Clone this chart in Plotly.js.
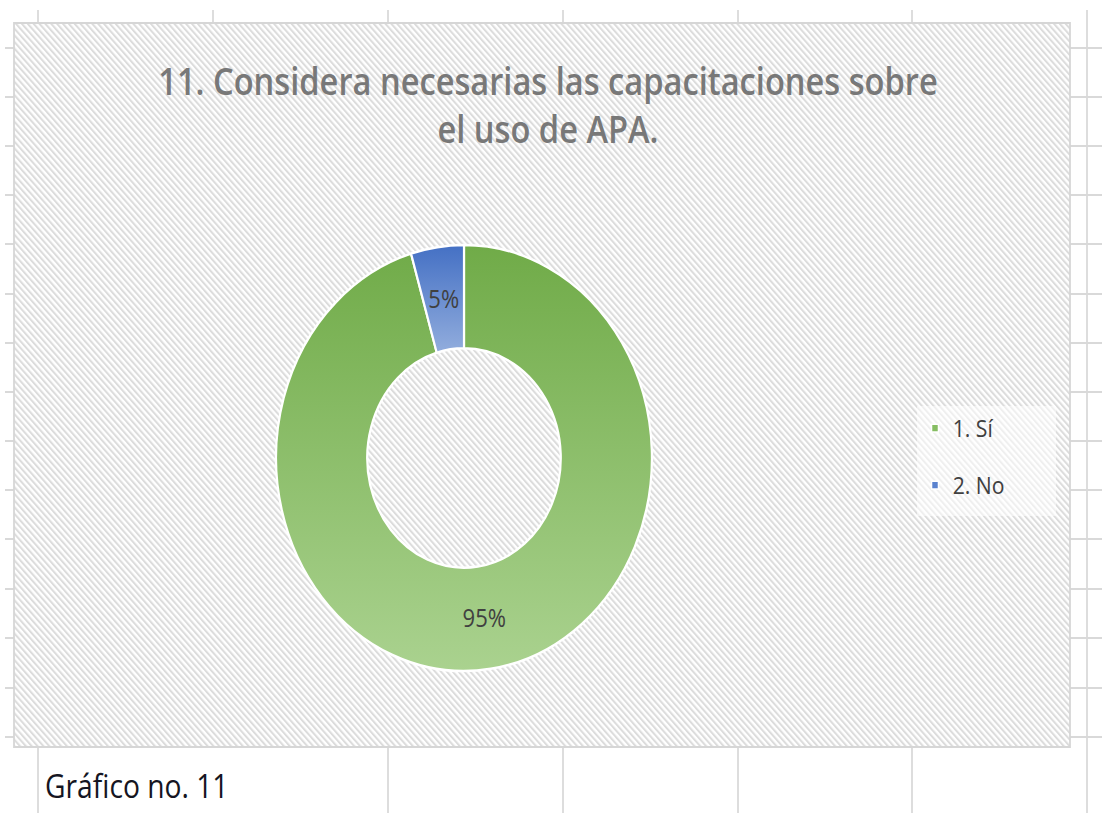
<!DOCTYPE html>
<html><head><meta charset="utf-8">
<script src="https://cdn.plot.ly/plotly-3.0.1.min.js"></script>
<style>
html,body{margin:0;padding:0;background:#fff;overflow:hidden;width:1102px;height:813px}
#wrap{width:1249px;height:813px;transform:scaleX(0.88231);transform-origin:0 0}
</style>
</head><body><div id="wrap"><div id="chart" style="width:1249px;height:813px"></div></div>
<script>
// ---- data ----
const categories = ['1. Sí', '2. No'];
const responses = [21, 1];
const chartTitle = '11. Considera necesarias las capacitaciones sobre<br>el uso de APA.';
const caption = 'Gráfico no. 11';

// ---- layout helpers (screen is squeezed horizontally like the reference screenshot) ----
const SW = 1102, H = 813, W = 1249, SX = SW / W;
const px = x => x / SW, py = y => 1 - y / H;
const gridCols = [38, 213, 388, 563, 738, 912, 1087];
const gridRows = [48, 97, 146, 195, 244, 294, 343, 392, 441, 490, 539, 589, 638, 688, 737];
const box = {x0: 14, y0: 23, x1: 1070, y1: 747};
const gridColor = '#d9d9d9';
const FONT = '"Open Sans", sans-serif';

const shapes = [];
function line(x0, y0, x1, y1) {
  shapes.push({type: 'line', xref: 'paper', yref: 'paper', x0: px(x0), y0: py(y0), x1: px(x1), y1: py(y1),
    line: {color: gridColor, width: 2}});
}
gridCols.forEach(x => { if (x < box.x1) line(x, 10, x, box.y0); });
[38, 388, 563, 738, 912].forEach(x => line(x, box.y1, x, H));
line(1087, 10, 1087, H);
gridRows.forEach(y => { line(5, y, box.x0, y); line(box.x1, y, SW, y); });
shapes.push({type: 'rect', xref: 'paper', yref: 'paper', x0: px(box.x0), y0: py(box.y0), x1: px(box.x1), y1: py(box.y1),
  line: {color: '#d6d6d6', width: 2}, fillcolor: 'rgba(0,0,0,0)'});

const bw = Math.round((box.x1 - box.x0) / SX), bh = box.y1 - box.y0;
const hatchSvg = "<svg xmlns='http://www.w3.org/2000/svg' width='" + bw + "' height='" + bh + "'>" +
  "<defs><pattern id='p' width='4.7' height='4.7' patternUnits='userSpaceOnUse' patternTransform='rotate(-45)'>" +
  "<rect width='2.2' height='4.7' fill='#dcdcdc'/></pattern></defs>" +
  "<rect width='100%' height='100%' fill='#ffffff'/><rect width='100%' height='100%' fill='url(#p)'/></svg>";

const donutCx = px(464), donutHalf = 213 / W;
const holeRatio = 0.515;
const trace = {
  type: 'pie', labels: categories, values: responses,
  hole: holeRatio, sort: false, direction: 'clockwise', rotation: 0,
  marker: {colors: ['#86BD62', '#5B83CF'], line: {color: '#ffffff', width: 2.5}},
  texttemplate: '%{percent:.0%}', textposition: 'inside', insidetextorientation: 'horizontal',
  textfont: {family: FONT, size: 25, color: '#404040'},
  domain: {x: [donutCx - donutHalf, donutCx + donutHalf], y: [py(671), py(245)]},
  hoverinfo: 'label+percent'
};

const layout = {
  width: W, height: H, margin: {l: 0, r: 0, t: 0, b: 0},
  paper_bgcolor: '#ffffff', plot_bgcolor: 'rgba(0,0,0,0)',
  title: {text: chartTitle, x: px(548), xanchor: 'center', y: py(95), yanchor: 'middle', xref: 'paper', yref: 'paper',
    font: {family: FONT, size: 37, weight: 600, color: '#787878'}},
  showlegend: true,
  legend: {x: px(935) - 20 / W, y: py(406), xanchor: 'left', yanchor: 'top', bgcolor: 'rgba(255,255,255,0.55)',
    font: {family: FONT, size: 24, color: '#404040'}},
  uniformtext: {mode: 'show', minsize: 25},
  images: [{source: 'data:image/svg+xml;base64,' + btoa(hatchSvg), xref: 'paper', yref: 'paper',
    x: px(box.x0), y: py(box.y0), sizex: (box.x1 - box.x0) / SW, sizey: bh / H, xanchor: 'left', yanchor: 'top',
    sizing: 'stretch', layer: 'below'}],
  shapes: shapes,
  annotations: [{text: caption, xref: 'paper', yref: 'paper', x: px(43), y: py(785), xanchor: 'left', yanchor: 'middle',
    showarrow: false, font: {family: FONT, size: 32, color: '#151522'}}]
};

Plotly.newPlot('chart', [trace], layout, {displayModeBar: false}).then(gd => {
  const NS = 'http://www.w3.org/2000/svg';
  // gradient fills like the original Excel rendering
  const svg = gd.querySelector('svg.main-svg');
  const defs = document.createElementNS(NS, 'defs');
  const grads = [['gGreen', '#70AB48', '#AAD28F'], ['gBlue', '#4470C4', '#92ADDD']];
  grads.forEach(([id, c1, c2]) => {
    const lg = document.createElementNS(NS, 'linearGradient');
    lg.setAttribute('id', id); lg.setAttribute('x1', '0'); lg.setAttribute('y1', '0');
    lg.setAttribute('x2', '0'); lg.setAttribute('y2', '1');
    [[0, c1], [1, c2]].forEach(([o, c]) => {
      const s = document.createElementNS(NS, 'stop');
      s.setAttribute('offset', o); s.setAttribute('stop-color', c); lg.appendChild(s);
    });
    defs.appendChild(lg);
  });
  svg.insertBefore(defs, svg.firstChild);
  const slices = gd.querySelectorAll('.pielayer .slice');
  slices.forEach((g, i) => {
    const p = g.querySelector('path.surface');
    if (p) p.style.fill = 'url(#' + grads[i % grads.length][0] + ')';
  });

  // percentage labels at the middle of each ring segment (computed from the data)
  const cd = gd.calcdata && gd.calcdata[0];
  const cd0 = cd && cd[0];
  const total = responses.reduce((a, b) => a + b, 0);
  const cx = cd0 ? cd0.cx : donutCx * W, cy = cd0 ? cd0.cy : 458;
  const r = cd0 ? cd0.r : 213;
  const rMid = r * (1 + holeRatio) / 2;
  let cum = 0;
  slices.forEach((g, i) => {
    const v = responses[i];
    const a = 2 * Math.PI * (cum + v / 2) / total;
    cum += v;
    const t = g.querySelector('text.slicetext');
    if (!t) return;
    const tx = cx + rMid * Math.sin(a), ty = cy - rMid * Math.cos(a);
    t.removeAttribute('transform');
    const bb = t.getBBox();
    t.setAttribute('transform', 'translate(' + (tx - (bb.x + bb.width / 2)) + ',' + (ty - (bb.y + bb.height / 2)) + ')');
  });

  // legend spacing, marker size, box size
  const items = Array.from(gd.querySelectorAll('.legend .traces'));
  const pos = items.map(t => {
    const m = /translate\(([-\d.e]+)[ ,]+([-\d.e]+)\)/.exec(t.getAttribute('transform') || '');
    return m ? [+m[1], +m[2]] : [0, 0];
  });
  const gap = 57, origGap = pos.length > 1 ? pos[1][1] - pos[0][1] : gap;
  items.forEach((t, i) => t.setAttribute('transform', 'translate(' + pos[0][0] + ',' + (pos[0][1] + i * gap) + ')'));
  gd.querySelectorAll('.legend .legendpoints path').forEach(p => {
    p.setAttribute('transform', (p.getAttribute('transform') || '') + ' scale(0.65)');
  });
  const sb = gd.querySelector('.legend .scrollbox');
  if (sb) sb.removeAttribute('clip-path');
  const bg = gd.querySelector('.legend rect.bg');
  if (bg) {
    bg.setAttribute('height', +bg.getAttribute('height') + (gap - origGap) * (items.length - 1) + 8);
    bg.setAttribute('width', Math.max(+bg.getAttribute('width'), 139 / SX));
  }
});
</script></body></html>
